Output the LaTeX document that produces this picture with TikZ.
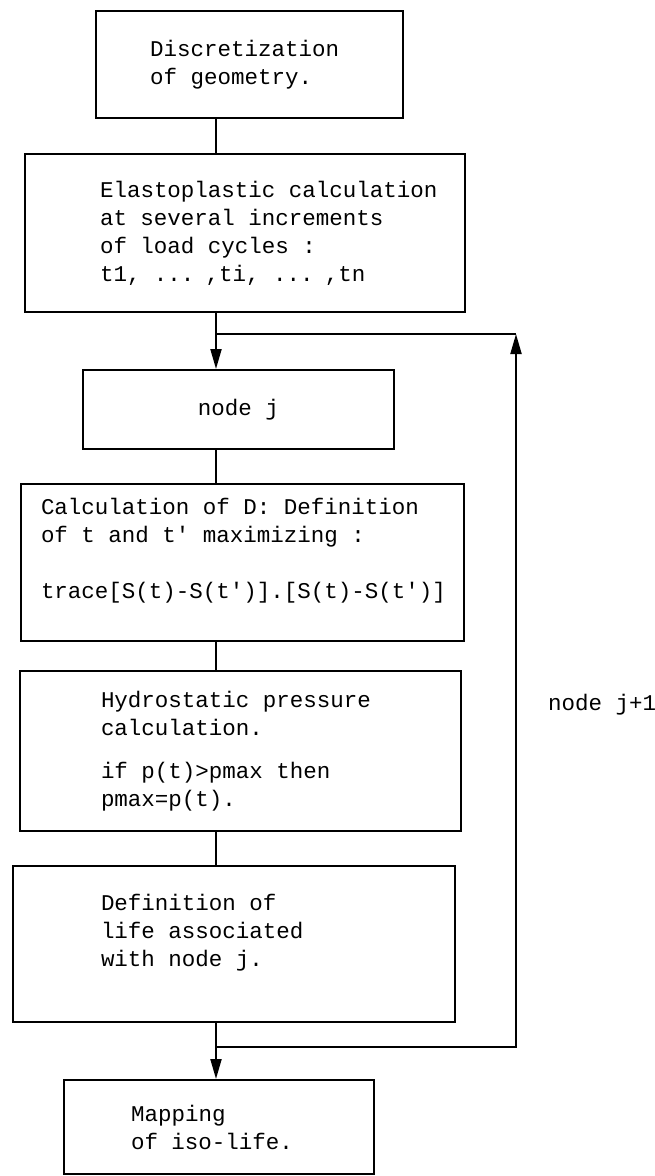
\documentclass[tikz,border=0pt]{standalone}
\usepackage{fontspec}
\setmonofont{Liberation Mono}
\usetikzlibrary{arrows.meta,calc}
\newcommand{\boxfont}{\ttfamily\fontsize{22.5}{28}\selectfont\spaceskip=13.5pt\relax}
\tikzset{
	stepbox/.style={draw, line width=2pt, rectangle, inner xsep=0pt, inner ysep=0pt, align=left, font=\boxfont,
		execute at begin node={\spaceskip=13.5pt\relax}},
	indent/.style={execute at begin node={\leftskip=#1\relax}},
	link/.style={line width=2pt},
	flow/.style={line width=2pt, -{Triangle[length=20pt, width=11pt]}},
	tag/.style={font=\boxfont, inner sep=0pt}
}

\begin{document}
\begin{tikzpicture}
	\useasboundingbox (0,0) rectangle (654pt,-1176pt);
	\node[stepbox, indent=54pt, text width=307pt, minimum height=107pt] (disc) at (249.5pt,-64.5pt) {Discretization\\of geometry.};
	\node[stepbox, indent=75pt, text width=440pt, minimum height=158pt] (elasto) at (245pt,-233pt) {Elastoplastic calculation\\at several increments\\of load cycles :\\t1, ... ,ti, ... ,tn};
	\node[stepbox, align=center, text width=311pt, minimum height=79pt] (nodej) at (238.5pt,-409.5pt) {node j};
	\node[stepbox, indent=20pt, text width=443pt, minimum height=157pt] (calc) at (242.5pt,-562.5pt) {Calculation of D: Definition\\of t and t' maximizing :\\[28pt]trace[S(t)-S(t')].[S(t)-S(t')]\\\mbox{}};
	\node[stepbox, indent=81pt, text width=441pt, minimum height=160pt] (hydro) at (240.5pt,-751pt) {Hydrostatic pressure\\calculation.\\[15pt]if p(t)>pmax then\\pmax=p(t).};
	\node[stepbox, indent=88pt, text width=442pt, minimum height=156pt] (life) at (234pt,-944pt) {Definition of\\life associated\\with node j.\\\mbox{}};
	\node[stepbox, indent=67pt, text width=310pt, minimum height=94pt] (mapping) at (219pt,-1127pt) {Mapping\\of iso-life.};

	% main column
	\coordinate (spine) at (216pt,0);
	\coordinate (rail) at (516pt,0);
	\draw[link] (disc.south -| spine) -- (elasto.north -| spine);
	\draw[flow] (elasto.south -| spine) -- (nodej.north -| spine);
	\draw[link] (nodej.south -| spine) -- (calc.north -| spine);
	\draw[link] (calc.south -| spine) -- (hydro.north -| spine);
	\draw[link] (hydro.south -| spine) -- (life.north -| spine);
	\draw[flow] (life.south -| spine) -- (mapping.north -| spine);

	% loop back to the next node
	\coordinate (join) at (216pt,-334pt);
	\coordinate (split) at (216pt,-1047pt);
	\draw[flow] (split) -| node[tag, pos=0.74, anchor=west, xshift=31pt] (next) {node j+1} (join -| rail);
	\draw[link] (join -| rail) -- (join);
\end{tikzpicture}
\end{document}
